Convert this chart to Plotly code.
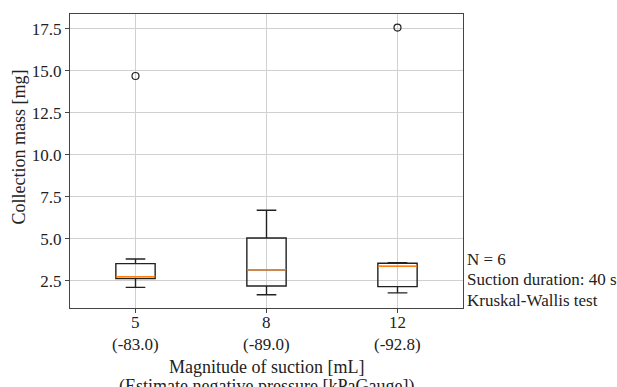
import plotly.graph_objects as go

# ---- data ----
positions = [1, 2, 3]
suction_ml = ["5", "8", "12"]
pressure_kpa = ["-83.0", "-89.0", "-92.8"]
whisker_low = [2.12, 1.68, 1.79]
q1 = [2.64, 2.20, 2.16]
median = [2.76, 3.17, 3.37]
q3 = [3.53, 5.06, 3.55]
whisker_high = [3.81, 6.71, 3.59]
outlier_x = [1, 3]
outlier_y = [14.70, 17.58]
y_ticks = [2.5, 5.0, 7.5, 10.0, 12.5, 15.0, 17.5]
notes = ["N = 6", "Suction duration: 40 s", "Kruskal-Wallis test"]
x_title = ["Magnitude of suction [mL]", "(Estimate negative pressure [kPaGauge])"]
y_title = "Collection mass [mg]"

BOX_W = 0.3
FONT = "Liberation Serif, Times New Roman, serif"
TXT = "#222222"
PLOT_H = 294.0
PLOT_W = 393.0
TICK_F = dict(family=FONT, size=17, color=TXT)
TITLE_F = dict(family=FONT, size=18, color=TXT)


def py(pix):
    """pixel row -> paper y"""
    return (308 - pix) / PLOT_H


fig = go.Figure()
fig.add_trace(go.Box(
    x=positions, q1=q1, median=median, q3=q3,
    lowerfence=whisker_low, upperfence=whisker_high,
    width=BOX_W, whiskerwidth=0.5,
    line=dict(color="#222222", width=1.4),
    fillcolor="rgba(255,255,255,0)",
    boxpoints=False, hoverinfo="skip", showlegend=False,
))
mx, my = [], []
for p, m in zip(positions, median):
    mx += [p - BOX_W / 2, p + BOX_W / 2, None]
    my += [m, m, None]
fig.add_trace(go.Scatter(
    x=mx, y=my, mode="lines", line=dict(color="#ff7f0e", width=1.4),
    hoverinfo="skip", showlegend=False,
))
fig.add_trace(go.Scatter(
    x=outlier_x, y=outlier_y, mode="markers",
    marker=dict(symbol="circle-open", size=7, color="#222222", line=dict(width=1.2)),
    hoverinfo="skip", showlegend=False,
))

annots = [
    dict(x=(18 - 70) / PLOT_W, y=py(147.5), xref="paper", yref="paper",
         xanchor="center", yanchor="middle", text=y_title, textangle=-90,
         showarrow=False, font=TITLE_F),
    dict(x=0.5, y=py(366.5), xref="paper", yref="paper", borderpad=0,
         xanchor="center", yanchor="middle", text=x_title[0], showarrow=False, font=TITLE_F),
    dict(x=0.5, y=py(386), xref="paper", yref="paper", borderpad=0,
         xanchor="center", yanchor="middle", text=x_title[1], showarrow=False, font=TITLE_F),
]
# category tick labels (two lines per tick), placed on the x axis scale
for p, s, pr in zip(positions, suction_ml, pressure_kpa):
    annots.append(dict(x=p, y=py(322), xref="x", yref="paper", xanchor="center",
                       yanchor="middle", text=s, showarrow=False, font=TICK_F))
    annots.append(dict(x=p, y=py(344), xref="x", yref="paper", xanchor="center",
                       yanchor="middle", text=f"({pr})", showarrow=False, font=TICK_F))
note_y = [259, 279.5, 300]
for t, yy in zip(notes, note_y):
    annots.append(dict(x=1.0 + (467 - 463) / PLOT_W, y=py(yy),
                       xref="paper", yref="paper", xanchor="left", yanchor="middle",
                       text=t, showarrow=False, xshift=-2, font=TICK_F))

fig.update_layout(
    width=617, height=387,
    margin=dict(l=70, r=154, t=14, b=79, autoexpand=False),
    plot_bgcolor="white", paper_bgcolor="white",
    font=dict(family=FONT, size=17, color=TXT),
    xaxis=dict(
        range=[0.5, 3.5], tickmode="array", tickvals=positions,
        ticktext=["" for _ in positions],
        showgrid=True, gridcolor="#d0d0d0", gridwidth=1,
        showline=True, linecolor="#444444", linewidth=1.3, mirror=True,
        ticks="outside", ticklen=4, tickcolor="#444444",
        zeroline=False, automargin=False,
    ),
    yaxis=dict(
        range=[0.89, 18.39], tickmode="array", tickvals=y_ticks,
        ticktext=[f"{v:.1f}" for v in y_ticks],
        tickfont=TICK_F,
        showgrid=True, gridcolor="#d0d0d0", gridwidth=1,
        showline=True, linecolor="#444444", linewidth=1.3, mirror=True,
        ticks="outside", ticklen=4, tickcolor="#444444",
        zeroline=False, automargin=False,
    ),
    annotations=annots,
)

fig.write_html("out.html")
